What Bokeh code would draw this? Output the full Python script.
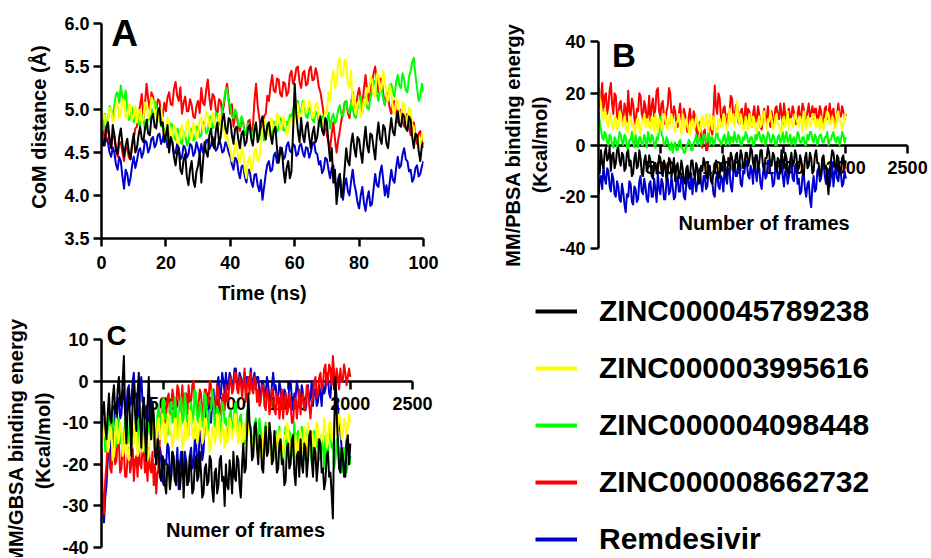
from bokeh.plotting import figure
from bokeh.layouts import row, column
from bokeh.models import FixedTicker, Label, Legend, LegendItem
from bokeh.embed import file_html
from bokeh.resources import INLINE

FONT = "Liberation Sans"

series_names = ["ZINC000045789238", "ZINC000003995616", "ZINC000004098448",
                "ZINC000008662732", "Remdesivir"]
series_colors = ["#000000", "#FFFF00", "#00FF00", "#FF0000", "#0000CD"]

# ---------------- Panel A : CoM distance vs time (every 0.5 ns) ----------------
time_ns = [i * 0.5 for i in range(201)]

A_black = [4.75,4.58, 4.62,4.80, 4.85,4.66, 4.55,4.82, 4.70,4.52, 4.48,4.68, 4.78,4.60, 4.45,4.58, 4.66,4.50, 4.42,4.60,
           4.72,4.50, 4.55,4.70, 4.80,4.66, 4.62,4.78, 4.88,4.72, 4.70,4.90, 4.95,4.80, 4.78,4.98, 5.02,4.82, 4.85,4.62,
           4.70,4.82, 4.50,4.68, 4.62,4.45, 4.35,4.50, 4.55,4.30, 4.25,4.42, 4.48,4.22, 4.12,4.30, 4.40,4.18, 4.10,4.28,
           4.35,4.50, 4.15,4.38, 4.62,4.50, 4.45,4.70, 4.78,4.60, 4.55,4.75, 4.85,4.60, 4.68,4.88, 4.95,4.78, 4.72,4.90,
           4.88,4.70, 4.60,4.78, 4.80,4.65, 4.55,4.72, 4.75,4.58, 4.62,4.78, 4.82,4.66, 4.58,4.75, 4.85,4.62, 4.70,4.86,
           4.92,4.75, 4.65,4.82, 4.85,4.70, 4.60,4.75, 4.80,4.55, 4.38,4.50, 4.55,4.30, 4.15,4.32, 4.40,4.20, 4.28,4.75,
           5.30,4.95, 4.75,4.62, 4.90,4.70, 4.62,4.80, 4.85,4.68, 4.55,4.72, 4.80,4.62, 4.68,4.85, 4.92,4.76, 4.70,4.90,
           4.85,4.60, 4.40,4.55, 4.15,4.30, 3.90,4.08, 4.25,3.98, 4.05,4.30, 4.55,4.40, 4.35,4.60, 4.72,4.55, 4.45,4.68,
           4.65,4.50, 4.38,4.62, 4.80,4.58, 4.50,4.72, 4.70,4.55, 4.42,4.68, 4.85,4.66, 4.60,4.82, 4.78,4.60, 4.55,4.75,
           4.90,4.74, 4.70,4.88, 4.98,4.82, 4.80,4.95, 4.92,4.78, 4.75,4.92, 4.88,4.68, 4.55,4.72, 4.70,4.52, 4.40,4.58,
           4.62]
A_yellow = [4.80,4.95, 4.92,4.78, 4.85,5.02, 5.00,4.86, 4.88,5.08, 5.05,4.90, 4.95,5.12, 5.10,4.92, 4.90,5.06, 5.05,4.88,
            4.92,5.04, 4.85,4.98, 5.00,4.84, 4.90,5.08, 5.05,4.90, 4.95,5.14, 5.10,4.94, 5.00,4.86, 4.92,5.02, 4.85,4.70,
            4.75,4.90, 4.85,4.68, 4.65,4.82, 4.78,4.62, 4.60,4.75, 4.82,4.66, 4.70,4.86, 4.88,4.70, 4.65,4.84, 4.80,4.66,
            4.72,4.88, 4.90,4.76, 4.80,4.98, 4.95,4.80, 4.85,4.96, 4.92,4.78, 4.78,4.95, 4.90,4.74, 4.82,4.66, 4.70,4.58,
            4.55,4.40, 4.45,4.62, 4.60,4.42, 4.38,4.55, 4.50,4.30, 4.20,4.40, 4.45,4.28, 4.35,4.52, 4.55,4.40, 4.42,4.62,
            4.75,4.88, 4.85,4.72, 4.70,4.90, 4.88,4.74, 4.78,4.95, 4.92,4.78, 4.80,4.92, 4.85,4.70, 4.75,4.88, 4.90,4.82,
            4.95,5.08, 5.05,4.88, 4.90,5.06, 5.10,4.96, 4.98,5.10, 5.05,4.90, 4.92,5.06, 5.08,4.90, 4.95,4.82, 4.85,4.98,
            4.95,5.20, 5.10,5.35, 5.45,5.25, 5.30,5.55, 5.60,5.38, 5.40,5.58, 5.55,5.30, 5.25,5.45, 5.05,5.18, 4.95,5.08,
            5.10,4.92, 4.95,5.12, 5.05,5.25, 5.20,5.38, 5.35,5.18, 5.15,5.42, 5.40,5.22, 5.25,5.45, 5.35,5.15, 5.10,5.28,
            5.20,5.00, 4.95,5.12, 5.10,4.92, 4.90,5.08, 5.05,4.88, 4.85,5.02, 4.98,4.82, 4.80,4.68, 4.70,4.55, 4.60,4.72,
            4.65]
A_green = [4.85,4.76, 4.95,4.82, 4.88,5.04, 5.00,4.90, 5.05,5.18, 5.20,5.08, 5.28,5.15, 5.10,5.22, 5.00,4.88, 4.92,5.02,
           4.85,4.96, 4.95,4.84, 4.80,4.94, 4.90,4.76, 4.78,4.92, 4.88,5.00, 4.95,5.10, 5.05,4.92, 4.90,4.80, 4.85,4.74,
           4.78,4.66, 4.70,4.84, 4.82,4.68, 4.65,4.78, 4.75,4.62, 4.60,4.74, 4.72,4.58, 4.62,4.76, 4.78,4.64, 4.65,4.80,
           4.80,4.68, 4.70,4.86, 4.85,4.72, 4.75,4.90, 4.92,4.78, 4.80,4.96, 4.95,4.82, 4.85,5.00, 5.10,5.22, 5.25,5.08,
           5.05,4.92, 4.90,5.00, 4.95,4.82, 4.80,4.92, 4.85,4.70, 4.72,4.84, 4.80,4.68, 4.70,4.82, 4.78,4.66, 4.65,4.78,
           4.75,4.64, 4.68,4.82, 4.80,4.70, 4.72,4.86, 4.85,4.74, 4.78,4.90, 4.88,4.76, 4.75,4.86, 4.82,4.94, 4.90,5.02,
           4.95,5.06, 5.10,4.96, 4.98,5.10, 5.05,4.92, 4.90,5.02, 5.00,4.88, 4.85,4.98, 4.95,4.84, 4.80,4.92, 4.90,4.80,
           4.85,4.96, 4.78,4.90, 4.95,4.84, 4.88,5.00, 5.05,4.94, 4.92,5.06, 5.10,4.98, 4.95,5.08, 5.02,4.92, 4.90,5.02,
           5.05,5.16, 4.95,5.08, 5.15,5.02, 5.00,5.14, 5.20,5.34, 5.30,5.18, 5.10,5.24, 5.25,5.12, 5.05,5.20, 5.15,5.28,
           5.30,5.20, 5.15,5.32, 5.40,5.28, 5.25,5.42, 5.35,5.22, 5.20,5.38, 5.45,5.55, 5.60,5.40, 5.25,5.10, 5.15,5.30,
           5.20]
A_red = [4.72,4.84, 4.60,4.74, 4.78,4.62, 4.55,4.68, 4.70,4.56, 4.45,4.60, 4.62,4.50, 4.40,4.56, 4.55,4.44, 4.42,4.58,
         4.65,4.78, 4.80,4.94, 5.05,5.18, 4.90,5.06, 5.30,5.12, 5.00,5.20, 5.15,5.02, 4.95,5.12, 5.10,4.96, 4.92,5.08,
         4.98,5.14, 5.20,5.06, 5.05,5.24, 5.32,5.16, 5.10,5.26, 4.95,5.08, 5.15,4.98, 4.98,5.12, 5.05,4.92, 4.90,5.04,
         5.10,4.96, 5.25,5.08, 5.05,5.22, 5.35,5.14, 5.00,5.18, 5.15,5.00, 4.95,5.12, 5.10,4.96, 5.05,5.20, 5.30,5.12,
         4.95,5.06, 4.80,4.94, 4.92,4.80, 4.75,4.90, 4.85,4.72, 4.70,4.86, 4.88,4.74, 4.78,5.10, 5.30,5.05, 4.90,4.78,
         4.80,4.92, 4.95,5.16, 5.10,5.28, 5.40,5.22, 5.20,5.36, 5.35,5.18, 5.15,5.32, 5.30,5.16, 5.20,5.40, 5.45,5.30,
         5.35,5.48, 5.50,5.32, 5.25,5.42, 5.45,5.28, 5.30,5.46, 5.50,5.34, 5.35,5.48, 5.40,5.26, 5.20,5.08, 4.95,4.82,
         4.70,4.62, 4.55,4.72, 4.85,4.66, 4.50,4.64, 4.75,4.88, 4.95,5.08, 5.10,4.96, 4.90,5.06, 5.20,5.05, 5.00,5.16,
         5.25,5.12, 5.05,5.24, 5.40,5.22, 5.10,5.26, 5.30,5.42, 5.50,5.32, 5.20,5.36, 5.35,5.18, 5.05,5.20, 5.15,5.02,
         4.95,5.08, 5.10,4.96, 4.85,4.98, 5.00,4.86, 4.80,4.94, 4.95,4.80, 4.70,4.84, 4.85,4.70, 4.60,4.72, 4.75,4.62,
         4.55]
A_blue = [4.70,4.60, 4.58,4.68, 4.62,4.50, 4.45,4.56, 4.50,4.36, 4.30,4.45, 4.40,4.22, 4.08,4.30, 4.25,4.12, 4.20,4.35,
          4.45,4.32, 4.40,4.52, 4.55,4.44, 4.50,4.64, 4.62,4.50, 4.55,4.66, 4.68,4.56, 4.60,4.70, 4.72,4.60, 4.65,4.74,
          4.68,4.56, 4.58,4.66, 4.62,4.48, 4.50,4.60, 4.55,4.42, 4.45,4.58, 4.55,4.44, 4.48,4.60, 4.58,4.46, 4.50,4.62,
          4.55,4.48, 4.60,4.50, 4.52,4.64, 4.65,4.54, 4.58,4.68, 4.62,4.52, 4.55,4.64, 4.60,4.50, 4.52,4.62, 4.58,4.50,
          4.45,4.36, 4.30,4.44, 4.42,4.28, 4.20,4.34, 4.35,4.22, 4.15,4.30, 4.30,4.16, 4.10,4.24, 4.25,4.12, 4.05,4.18,
          3.95,4.10, 4.25,4.36, 4.40,4.28, 4.30,4.46, 4.50,4.38, 4.42,4.56, 4.55,4.42, 4.45,4.58, 4.62,4.52, 4.50,4.60,
          4.58,4.46, 4.48,4.58, 4.60,4.50, 4.45,4.56, 4.55,4.44, 4.50,4.60, 4.62,4.50, 4.48,4.36, 4.40,4.26, 4.30,4.44,
          4.42,4.30, 4.20,4.32, 4.35,4.18, 4.05,4.20, 4.25,4.08, 3.95,4.12, 4.20,4.05, 4.00,4.16, 4.30,4.14, 4.05,3.92,
          3.85,4.00, 4.10,3.92, 3.82,3.96, 4.05,3.88, 3.90,4.08, 4.25,4.12, 4.10,4.26, 4.35,4.18, 4.00,4.12, 3.98,4.15,
          4.30,4.18, 4.15,4.32, 4.45,4.32, 4.35,4.48, 4.55,4.42, 4.40,4.28, 4.30,4.16, 4.20,4.32, 4.35,4.22, 4.25,4.34,
          4.40]

A_xticks = [0, 20, 40, 60, 80, 100]
A_yticks = [3.5, 4.0, 4.5, 5.0, 5.5, 6.0]
A_ylabels = ["3.5", "4.0", "4.5", "5.0", "5.5", "6.0"]

# ---------------- Panel B : MM/PBSA (every 10 frames) ----------------
frames = list(range(0, 2001, 10))

B_red = [22,15, 18,24, 13,19, 20,12, 15,21, 24,16, 12,20, 19,11, 10,16, 17,10,
         9,16, 14,9, 21,13, 11,18, 16,10, 8,14, 13,20, 19,12, 10,17, 15,9,
         12,19, 9,15, 18,11, 14,21, 22,13, 11,16, 17,10, 8,13, 15,22, 20,12,
         10,15, 13,8, 7,12, 16,10, 9,14, 12,7, 5,11, 14,9, 8,13, 11,6,
         3,8, 9,2, -1,5, 6,-2, -2,4, 10,6, 4,12, 23,15, 12,20, 18,11,
         9,14, 15,10, 7,12, 13,19, 18,11, 10,15, 16,9, 8,13, 14,8, 11,16,
         9,14, 13,8, 7,12, 15,9, 10,15, 12,7, 6,11, 14,10, 9,15, 11,7,
         13,9, 8,14, 15,11, 10,16, 12,8, 16,12, 9,13, 14,10, 11,15, 13,9,
         8,12, 15,10, 11,16, 14,9, 9,13, 16,11, 12,15, 10,14, 14,9, 11,15,
         13,8, 9,14, 15,10, 12,16, 10,13, 14,9, 8,12, 16,11, 11,15, 13,10,
         12]
B_yellow = [22,18, 15,11, 10,14, 12,8, 7,12, 11,7, 6,11, 10,6, 8,13, 12,8,
            7,11, 9,5, 5,10, 11,7, 8,4, 6,10, 10,6, 4,9, 9,12, 7,10,
            10,7, 6,11, 8,5, 12,8, 5,10, 9,6, 7,12, 11,7, 6,10, 8,12,
            10,6, 5,9, 9,12, 7,4, 12,8, 6,10, 8,5, 4,9, 10,6, 7,11,
            9,6, 5,10, 11,7, 7,12, 8,5, 12,8, 6,11, 9,5, 5,10, 10,7,
            8,12, 11,7, 6,10, 14,9, 9,12, 7,11, 17,10, 8,12, 10,6, 6,11,
            9,6, 12,8, 7,11, 10,6, 5,9, 11,7, 8,12, 13,8, 6,10, 9,13,
            10,6, 7,11, 12,8, 8,5, 5,10, 11,7, 9,13, 6,10, 10,7, 8,12,
            11,8, 7,11, 9,5, 13,9, 6,11, 10,7, 8,12, 12,8, 7,10, 9,6,
            11,7, 6,10, 9,13, 12,8, 8,11, 10,6, 7,12, 13,9, 9,6, 8,12,
            10]
B_green = [13,9, 6,3, 2,5, 4,1, 0,4, 3,0, -1,3, 2,-1, 1,5, 4,1,
           0,4, 3,-1, -2,2, 2,5, 1,-1, 4,1, -1,3, 3,0, 0,4, 2,-1,
           5,2, 1,4, 3,0, -1,3, 2,6, 11,4, 3,0, 0,3, 2,-1, -2,1,
           -3,0, 1,-2, -2,1, 2,-1, -1,-3, -3,0, 0,2, 1,-2, -2,1, 2,4,
           0,2, 3,0, 1,4, 4,1, 2,5, 0,3, 3,0, 1,4, 5,2, 2,0,
           1,3, 4,0, 2,5, 0,3, 3,1, 5,2, 1,4, 3,0, 0,3, 2,5,
           4,1, 1,3, 3,0, 0,4, 2,5, 5,2, 1,4, 3,0, 2,5, 4,1,
           1,4, 3,0, 0,3, 4,1, 2,5, 1,3, 5,1, 2,4, 0,2, 3,0,
           2,5, 4,1, 1,3, 3,0, 0,4, 2,5, 5,2, 1,4, 3,0, 2,4,
           4,1, 1,3, 3,5, 0,2, 2,4, 5,2, 1,3, 3,0, 2,5, 4,1,
           3]
B_black = [-6,-11, -2,-7, -9,-3, -1,-6, -5,-1, -10,-4, -3,-9, -7,-2, -1,-6, -8,-3,
           -4,-10, -9,-3, -2,-8, -6,-12, -11,-5, -3,-9, -8,-2, -5,-11, -12,-6, -4,-10,
           -9,-4, -6,-12, -13,-7, -7,-11, -10,-4, -5,-11, -12,-6, -8,-14, -11,-5, -6,-12,
           -10,-5, -14,-8, -7,-13, -11,-6, -9,-14, -15,-9, -8,-13, -12,-6, -6,-11, -13,-7,
           -9,-15, -14,-8, -10,-5, -7,-12, -13,-8, -9,-14, -15,-10, -11,-6, -8,-13, -12,-7,
           -10,-4, -6,-12, -11,-5, -8,-3, -5,-10, -9,-4, -3,-9, -7,-2, -4,-9, -8,-3,
           -3,-8, -6,-1, -2,-7, -9,-4, -4,-10, -7,-2, -2,-8, -10,-5, -5,-1, -3,-8,
           -8,-3, -4,-9, -10,-5, -6,-11, -2,-6, -9,-3, -5,-10, -11,-6, -3,-8, -7,-2,
           -4,-10, -9,-4, -6,-11, -12,-5, -3,-9, -8,-3, -5,-11, -10,-4, -2,-7, -7,-12,
           -11,-5, -4,-9, -8,-14, -19,-10, -6,-2, -3,-8, -9,-4, -5,-11, -10,-5, -4,-9,
           -6]
B_blue = [-19,-14, -12,-17, -8,-13, -15,-9, -10,-16, -18,-11, -13,-19, -20,-14, -16,-21, -22,-15,
          -18,-23, -26,-19, -20,-14, -15,-22, -23,-16, -17,-22, -21,-14, -12,-18, -19,-13, -16,-21,
          -22,-15, -14,-20, -20,-13, -17,-22, -11,-17, -19,-13, -15,-21, -21,-14, -13,-19, -18,-12,
          -16,-21, -20,-14, -12,-18, -18,-11, -14,-20, -21,-15, -10,-16, -17,-11, -19,-13, -13,-18,
          -15,-10, -9,-15, -18,-12, -12,-17, -16,-10, -8,-14, -14,-19, -20,-13, -11,-16, -17,-12,
          -13,-18, -8,-13, -15,-9, -10,-16, -18,-11, -6,-12, -12,-7, -9,-15, -16,-10, -11,-6,
          -7,-12, -13,-8, -10,-15, -5,-10, -14,-8, -9,-15, -17,-11, -8,-13, -12,-6, -6,-11,
          -11,-16, -15,-9, -8,-13, -13,-7, -6,-12, -16,-10, -10,-15, -12,-7, -7,-13, -14,-8,
          -9,-15, -13,-19, -18,-12, -11,-17, -20,-15, -14,-21, -24,-16, -12,-18, -17,-10, -9,-14,
          -13,-8, -7,-12, -15,-9, -10,-16, -12,-7, -16,-11, -8,-13, -14,-9, -11,-16, -15,-10,
          -13]

B_yticks = [-40, -20, 0, 20, 40]
B_ylabels = ["-40", "-20", "0", "20", "40"]
frame_ticks = [500, 1000, 1500, 2000, 2500]
frame_labels = ["500", "1000", "1500", "2000", "2500"]

# ---------------- Panel C : MM/GBSA (every 10 frames) ----------------
C_black = [-12,-7, -5,-11, -14,-8, -3,-9, -10,-4, -1,-7, -8,-2, 1,-5, -6,0, 6,-8,
           -15,-6, -2,-10, -18,-5, 0,-8, -12,-3, 2,-9, -16,-7, -4,-13, -19,-6, 1,-9,
           -14,-5, -8,-17, -20,-14, -17,-23, -24,-18, -19,-25, -27,-20, -21,-26, -23,-17, -18,-24,
           -25,-19, -20,-26, -22,-17, -28,-21, -19,-25, -24,-18, -21,-27, -26,-20, -18,-24, -23,-17,
           -22,-28, -27,-21, -20,-25, -24,-18, -19,-26, -29,-22, -21,-27, -25,-19, -18,-24, -23,-30,
           -20,-25, -26,-19, -22,-27, -17,-23, -24,-18, -19,-25, -28,-20, -15,-22, -21,-12, -3,-10,
           -12,-19, -18,-11, -10,-16, -20,-13, -14,-21, -22,-15, -11,-18, -17,-10, -13,-20, -19,-12,
           -16,-22, -21,-15, -14,-20, -19,-25, -24,-16, -15,-21, -20,-14, -13,-22, -25,-18, -17,-23,
           -14,-20, -22,-15, -16,-23, -19,-13, -12,-19, -23,-16, -17,-24, -20,-14, -15,-22, -21,-26,
           -24,-18, -17,-23, -22,-27, -33,-12, 1,-8, -14,-21, -22,-16, -18,-23, -23,-15, -13,-20,
           -15]
C_yellow = [-8,-14, -13,-9, -10,-17, -16,-11, -12,-19, -18,-12, -9,-15, -14,-10, -11,-18, -17,-12,
            -13,-18, -19,-12, -10,-16, -15,-10, -12,-18, -17,-11, -11,-17, -16,-12, -13,-19, -18,-13,
            -14,-9, -11,-16, -16,-10, -9,-14, -13,-8, -10,-15, -15,-9, -8,-13, -12,-16, -14,-9,
            -9,-14, -13,-8, -11,-16, -15,-10, -10,-14, -12,-7, -8,-13, -14,-9, -11,-15, -13,-9,
            -10,-15, -14,-9, -9,-13, -12,-17, -16,-11, -11,-15, -13,-8, -9,-14, -15,-10, -12,-16,
            -11,-15, -14,-9, -10,-14, -13,-8, -8,-12, -15,-10, -12,-16, -10,-14, -14,-9, -9,-13,
            -13,-17, -16,-11, -11,-17, -18,-13, -14,-19, -12,-16, -17,-12, -10,-15, -15,-20, -19,-14,
            -13,-18, -16,-12, -12,-17, -18,-13, -14,-10, -11,-16, -17,-13, -15,-19, -13,-18, -19,-14,
            -12,-17, -16,-11, -14,-18, -10,-15, -17,-12, -13,-18, -15,-10, -11,-16, -18,-13, -14,-9,
            -12,-16, -15,-10, -10,-14, -14,-9, -8,-13, -12,-8, -9,-14, -13,-9, -10,-14, -11,-8,
            -10]
C_green = [-14,-9, -10,-17, -16,-11, -8,-14, -13,-7, -11,-16, -15,-10, -9,-15, -12,-17, -14,-9,
           -10,-15, -13,-8, -8,-14, -15,-10, -11,-16, -9,-13, -14,-10, -12,-17, -16,-11, -10,-14,
           -13,-8, -9,-14, -15,-8, -6,-11, -10,-5, -4,-9, -8,-13, -12,-6, -5,-10, -9,-4,
           -7,-12, -11,-5, -4,-10, -9,-3, -6,-11, -13,-7, -5,-10, -8,-2, -3,-9, -10,-5,
           -6,-11, -9,-3, -4,-10, -12,-7, -7,-2, -5,-11, -10,-6, -8,-13, -11,-5, -6,-10,
           -9,-14, -13,-8, -7,-12, -11,-6, -5,-11, -14,-9, -8,-12, -10,-15, -12,-7, -7,-12,
           -11,-15, -16,-10, -9,-15, -14,-9, -12,-17, -18,-12, -10,-16, -15,-11, -13,-18, -19,-13,
           -12,-17, -16,-11, -14,-19, -20,-14, -11,-16, -17,-12, -13,-18, -15,-10, -18,-13, -12,-17,
           -16,-11, -13,-18, -19,-14, -11,-16, -15,-20, -17,-12, -12,-16, -14,-19, -18,-13, -16,-21,
           -13,-18, -17,-12, -11,-16, -15,-21, -19,-14, -14,-20, -16,-22, -21,-16, -18,-22, -20,-17,
           -20]
C_red = [-17,-28, -32,-24, -20,-15, -16,-21, -22,-17, -14,-20, -19,-13, -15,-22, -21,-16, -17,-23,
         -23,-18, -16,-22, -20,-15, -24,-19, -18,-23, -15,-20, -21,-16, -17,-22, -19,-24, -16,-21,
         -22,-17, -25,-20, -27,-22, -21,-13, -9,-4, -6,-10, -8,-4, -3,-8, -7,-2, -4,-9,
         -6,-1, -2,-7, -5,-1, -7,-3, -3,-8, -1,-5, -5,-1, 0,-5, -4,-8, -6,-2,
         -3,-8, -7,-2, -2,-6, -5,0, -1,-5, -4,-8, -6,-1, -2,-7, -8,-4, -3,-7,
         -1,-5, -4,0, 1,-3, -2,2, 2,-2, -3,1, 0,-4, -1,3, -5,-1, 1,-3,
         2,-2, -3,1, 0,-5, -2,-6, -5,-1, -1,-6, -7,-2, -3,-8, -6,-2, -2,-7,
         -8,-3, -4,-9, -6,-2, -9,-5, -3,-8, -7,-3, -5,-10, -10,-5, -4,-9, -6,-2,
         -8,-4, -3,-7, -6,-1, -2,-6, -9,-5, -4,0, 1,-4, -3,1, 2,-2, -1,3,
         4,-1, 0,4, 3,-1, 6,2, -2,3, 1,-2, 3,0, 0,4, 2,-1, 1,3,
         1]
C_blue = [-22,-30, -34,-28, -25,-19, -15,-20, -10,-14, -6,-11, -12,-5, -4,-9, -8,-3, -2,-8,
          -7,-2, -1,-6, -5,0, 2,-4, -3,-9, -8,-2, 1,-5, -4,-9, -6,-11, -10,-4,
          -5,-10, -12,-18, -17,-12, -22,-16, -18,-24, -25,-19, -20,-15, -16,-22, -23,-17, -19,-24,
          -21,-16, -26,-20, -17,-23, -22,-17, -19,-25, -24,-18, -16,-21, -20,-14, -15,-21, -18,-12,
          -13,-19, -17,-10, -8,-3, -4,-9, -10,-5, -2,-7, -6,-1, 1,-4, -3,2, 0,-3,
          2,-2, -1,2, 1,-2, 0,3, 3,-1, -1,2, 1,-2, 0,2, -2,1, 1,-1,
          3,-1, 0,2, -2,1, 1,-3, -4,0, 0,-4, -3,1, -1,-4, -5,-1, 2,-2,
          -1,-5, -4,0, -2,-6, -6,-2, -3,-7, -5,-1, 0,-4, -7,-3, -4,0, -2,-5,
          -5,-1, -3,-7, -7,-3, -1,-5, -4,0, -6,-2, -2,-6, -5,-1, -3,-6, 0,-3,
          -2,2, 1,-3, -4,1, 3,-2, 0,-4, -6,-10, -12,-16, -17,-22, -20,-14, -15,-20,
          -18]

C_yticks = [-40, -30, -20, -10, 0, 10]
C_ylabels = ["-40", "-30", "-20", "-10", "0", "10"]


def style_axis(ax, tick_size="18px"):
    ax.axis_line_width = 2.5
    ax.axis_line_color = "black"
    ax.major_tick_line_width = 2.5
    ax.major_tick_line_color = "black"
    ax.major_tick_out = 8
    ax.major_tick_in = 0
    ax.minor_tick_line_color = None
    ax.major_label_text_font = FONT
    ax.major_label_text_font_style = "bold"
    ax.major_label_text_font_size = tick_size
    ax.major_label_text_color = "black"
    ax.axis_label_text_font = FONT
    ax.axis_label_text_font_style = "bold"
    ax.axis_label_text_font_size = "20px"
    ax.axis_label_text_color = "black"


def add_series(p, x, series):
    # drawing order: blue, red, green, yellow, black (black on top)
    for ys, col in series:
        p.line(x, ys, line_color=col, line_width=2, line_join="round")


def letter(p, x, y, t, size):
    p.add_layout(Label(x=x, y=y, text=t, text_font=FONT, text_font_style="bold",
                       text_font_size=size, text_color="black",
                       text_align="left", text_baseline="middle"))


def base_fig(**kw):
    p = figure(output_backend="svg", toolbar_location=None, **kw)
    p.frame_align = False
    p.grid.visible = False
    p.outline_line_color = None
    return p


# ---- Panel A
pA = base_fig(width=478, height=310, x_range=(0, 100), y_range=(3.5, 6.093),
              min_border_left=101, min_border_right=55, min_border_top=15, min_border_bottom=72)
style_axis(pA.xaxis[0])
style_axis(pA.yaxis[0])
pA.yaxis.bounds = (3.5, 6.0)
pA.xaxis.ticker = FixedTicker(ticks=A_xticks)
pA.yaxis.ticker = FixedTicker(ticks=A_yticks)
pA.yaxis.major_label_overrides = dict(zip(A_yticks, A_ylabels))
pA.xaxis.axis_label = "Time (ns)"
pA.yaxis.axis_label = "CoM distance (Å)"
pA.xaxis.major_label_standoff = 9
pA.yaxis.major_label_standoff = 4
pA.xaxis.axis_label_standoff = 10
pA.yaxis.axis_label_standoff = 11
add_series(pA, time_ns, [(A_blue, series_colors[4]), (A_red, series_colors[3]),
                         (A_green, series_colors[2]), (A_yellow, series_colors[1]),
                         (A_black, series_colors[0])])
letter(pA, 3.0, 5.878, "A", "37px")

# ---- Panel B
pB = base_fig(width=452, height=288, x_range=(0, 2685), y_range=(-40, 40),
              min_border_left=120, min_border_right=0, min_border_top=41, min_border_bottom=40)
style_axis(pB.xaxis[0])
style_axis(pB.yaxis[0])
pB.xaxis.fixed_location = 0
pB.xaxis.bounds = (0, 2500)
pB.xaxis.level = "underlay"
pB.xaxis.ticker = FixedTicker(ticks=frame_ticks)
pB.xaxis.major_label_overrides = dict(zip(frame_ticks, frame_labels))
pB.xaxis.major_label_standoff = 8
pB.yaxis.ticker = FixedTicker(ticks=B_yticks)
pB.yaxis.major_label_overrides = dict(zip(B_yticks, B_ylabels))
pB.yaxis.major_label_standoff = 5
pB.yaxis.axis_label = "MM/PBSA binding energy\n(Kcal/mol)"
pB.yaxis.axis_label_standoff = 5
pB.yaxis.axis_label_text_line_height = 1.25
add_series(pB, frames, [(B_blue, series_colors[4]), (B_red, series_colors[3]),
                        (B_green, series_colors[2]), (B_yellow, series_colors[1]),
                        (B_black, series_colors[0])])
letter(pB, 110, 34.4, "B", "33px")
pB.add_layout(Label(x=1339, y=-30.1, text="Number of frames", text_font=FONT,
                    text_font_style="bold", text_font_size="20px", text_color="black",
                    text_align="center", text_baseline="middle"))

# ---- Panel C
pC = base_fig(width=478, height=247, x_range=(0, 2725), y_range=(-42.4, 13.6),
              min_border_left=101, min_border_right=38, min_border_top=14, min_border_bottom=0)
style_axis(pC.xaxis[0])
style_axis(pC.yaxis[0])
pC.yaxis.bounds = (-40, 10)
pC.xaxis.fixed_location = 0
pC.xaxis.bounds = (0, 2500)
pC.xaxis.level = "underlay"
pC.xaxis.ticker = FixedTicker(ticks=frame_ticks)
pC.xaxis.major_label_overrides = dict(zip(frame_ticks, frame_labels))
pC.xaxis.major_label_standoff = 8
pC.yaxis.ticker = FixedTicker(ticks=C_yticks)
pC.yaxis.major_label_overrides = dict(zip(C_yticks, C_ylabels))
pC.yaxis.major_label_standoff = 5
pC.yaxis.axis_label = "MM/GBSA binding energy\n(Kcal/mol)"
pC.yaxis.axis_label_standoff = 5
pC.yaxis.axis_label_text_line_height = 1.25
add_series(pC, frames, [(C_blue, series_colors[4]), (C_red, series_colors[3]),
                        (C_green, series_colors[2]), (C_yellow, series_colors[1]),
                        (C_black, series_colors[0])])
letter(pC, 40, 10.96, "C", "28px")
pC.add_layout(Label(x=1158, y=-35.8, text="Numer of frames", text_font=FONT,
                    text_font_style="bold", text_font_size="20px", text_color="black",
                    text_align="center", text_baseline="middle"))

# ---- Legend panel (legend proxies: the panel-A series, kept outside the visible range)
pL = base_fig(width=452, height=269, x_range=(0, 1), y_range=(0, 1),
              x_axis_type=None, y_axis_type=None, min_border=0)
items = []
for name, col, ys in zip(series_names, series_colors,
                         [A_black, A_yellow, A_green, A_red, A_blue]):
    r = pL.line(time_ns, ys, line_color=col, line_width=4)
    items.append(LegendItem(label=name, renderers=[r]))
leg = Legend(items=items, location=(57, 0), orientation="vertical",
             label_text_font=FONT, label_text_font_style="bold",
             label_text_font_size="30px", label_text_color="black",
             glyph_width=42, glyph_height=36, label_height=36, spacing=21,
             label_standoff=22, padding=0, margin=0,
             border_line_color=None, background_fill_alpha=0)
pL.add_layout(leg)

layout = row(column(pA, pC), column(pB, pL))
open("out.html", "w").write(file_html(layout, INLINE))
